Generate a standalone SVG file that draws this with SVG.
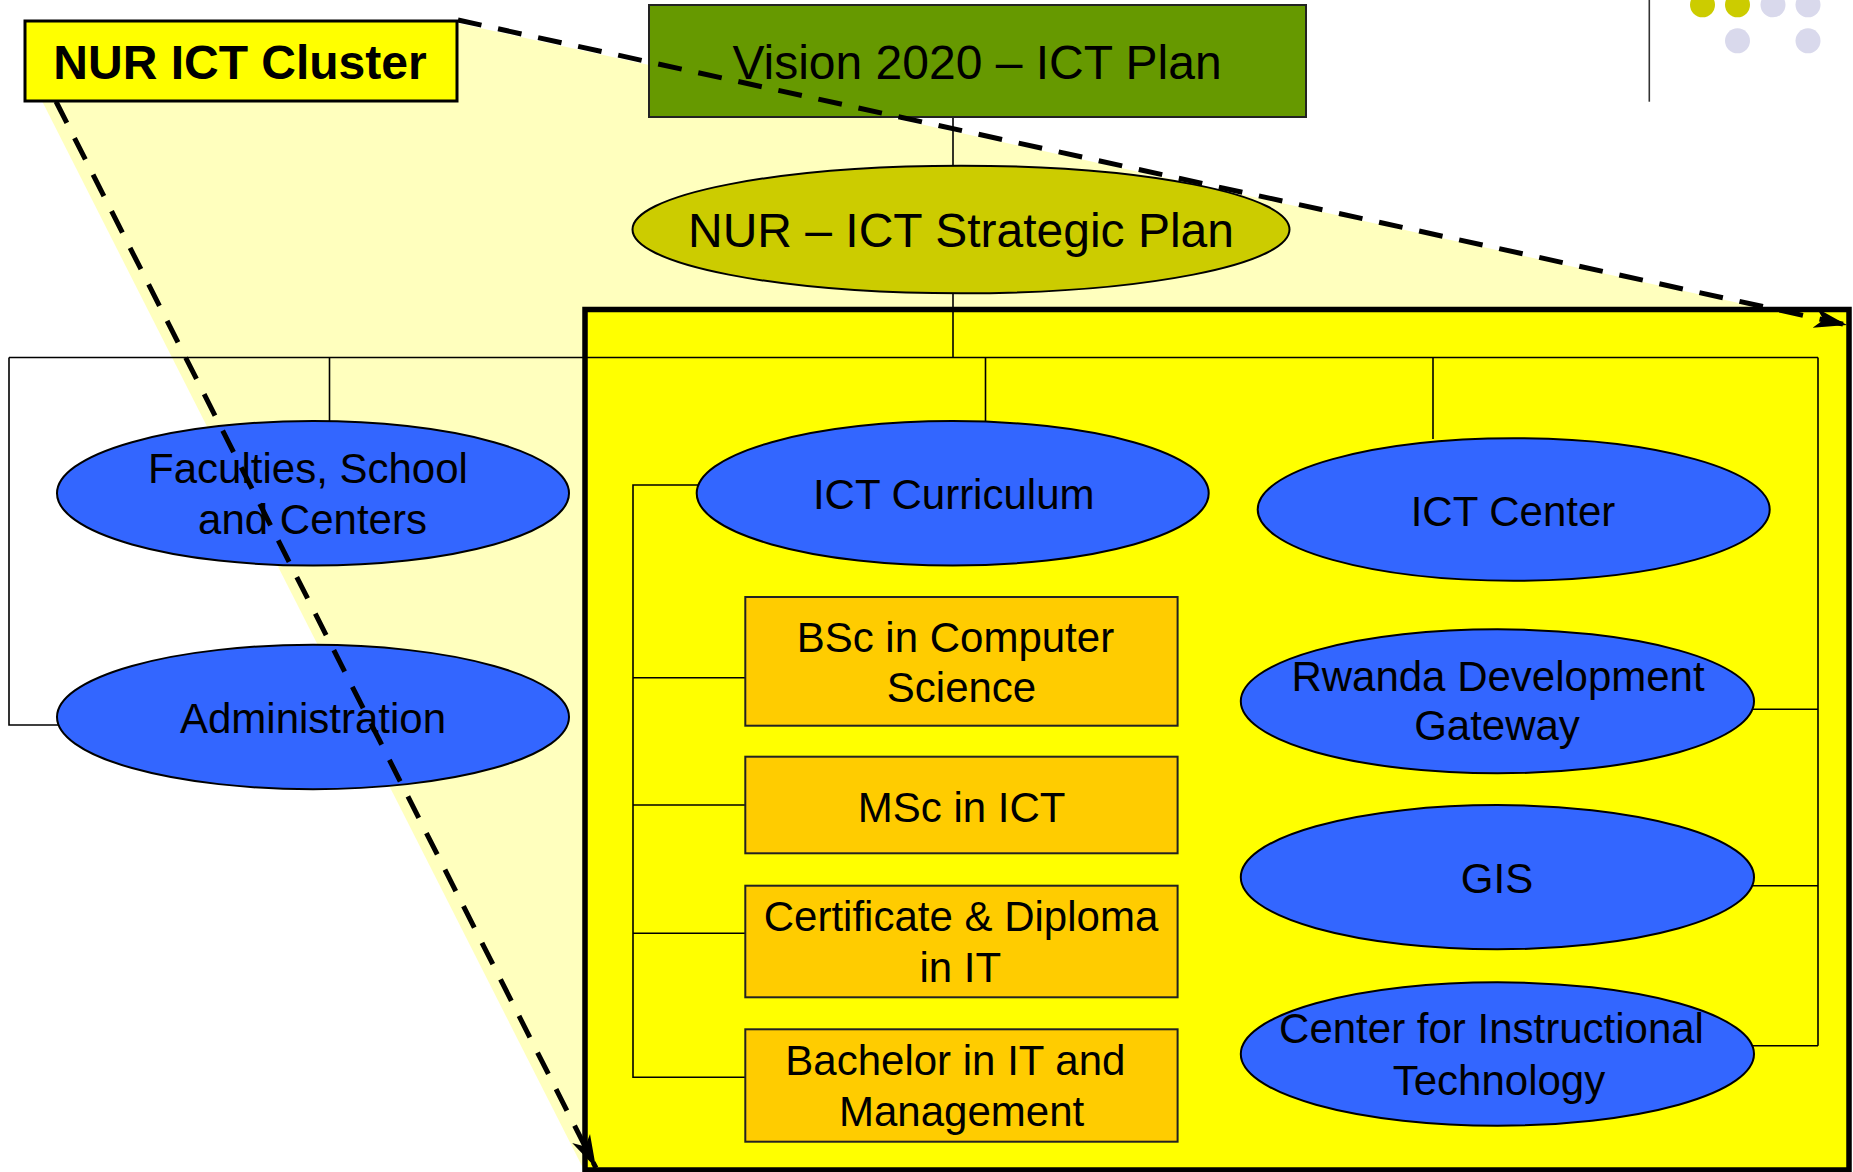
<svg xmlns="http://www.w3.org/2000/svg" width="1853" height="1172" viewBox="0 0 1853 1172">
<style>
  text { font-family: "Liberation Sans", Arial, sans-serif; fill: #000; text-anchor: middle; }
  .t48 { font-size: 48px; }
  .t42 { font-size: 42px; }
  .bold { font-weight: bold; }
  .blue { fill: #3366FF; stroke: #000; stroke-width: 2; }
  .orange { fill: #FFCC00; stroke: #222; stroke-width: 2; }
  .conn { fill: none; stroke: #000; stroke-width: 1.6; }
  .dash { fill: none; stroke: #000; stroke-width: 5; stroke-dasharray: 24 17; }
</style>
<defs>
  <marker id="arrow" markerUnits="userSpaceOnUse" markerWidth="34" markerHeight="24" viewBox="0 0 34 24" refX="33" refY="12" orient="auto">
    <path d="M0,2 L33,12 L0,22 L9,12 Z" fill="#000"/>
  </marker>
</defs>
<rect x="0" y="0" width="1853" height="1172" fill="#FFFFFF"/>

<!-- light yellow projection fan -->
<polygon points="42,101 457,23 1849,327 1849,1172 585,1172" fill="#FFFFBE"/>

<!-- big yellow cluster box -->
<g id="cluster-area">
  <rect x="585" y="309.5" width="1264" height="860.5" fill="#FFFF00" stroke="#000" stroke-width="5.5"/>
</g>

<!-- connectors -->
<g id="connectors">
  <line class="conn" x1="953" y1="117" x2="953" y2="167"/>
  <line class="conn" x1="953" y1="292" x2="953" y2="357.5"/>
  <line class="conn" x1="9" y1="357.5" x2="1818" y2="357.5"/>
  <polyline class="conn" points="9,357.5 9,725 58,725"/>
  <line class="conn" x1="329.5" y1="357.5" x2="329.5" y2="422"/>
  <line class="conn" x1="985.5" y1="357.5" x2="985.5" y2="422"/>
  <line class="conn" x1="1433" y1="357.5" x2="1433" y2="439"/>
  <line class="conn" x1="1818" y1="357.5" x2="1818" y2="1045.7"/>
  <line class="conn" x1="1752" y1="709.3" x2="1818" y2="709.3"/>
  <line class="conn" x1="1752" y1="885.7" x2="1818" y2="885.7"/>
  <line class="conn" x1="1752" y1="1045.7" x2="1818" y2="1045.7"/>
  <polyline class="conn" points="699,485 633,485 633,1077.3 745,1077.3"/>
  <line class="conn" x1="633" y1="677.7" x2="745" y2="677.7"/>
  <line class="conn" x1="633" y1="805" x2="745" y2="805"/>
  <line class="conn" x1="633" y1="933.3" x2="745" y2="933.3"/>
</g>

<g id="vision">
  <rect x="649" y="5" width="657" height="112" fill="#669900" stroke="#222" stroke-width="2"/>
  <text class="t48" x="977" y="79">Vision 2020 – ICT Plan</text>
</g>
<g id="strategic-plan">
  <ellipse cx="961" cy="229.5" rx="328.5" ry="63.8" fill="#CCCC00" stroke="#000" stroke-width="2"/>
  <text class="t48" x="961" y="246.7">NUR – ICT Strategic Plan</text>
</g>
<g id="nur-ict-cluster">
  <rect x="25" y="21" width="432" height="80" fill="#FFFF00" stroke="#000" stroke-width="3"/>
  <text class="t48 bold" x="240" y="79">NUR ICT Cluster</text>
</g>

<g id="faculties">
  <ellipse class="blue" cx="313" cy="493.3" rx="256" ry="72.3"/>
  <text class="t42" x="308" y="483.3">Faculties, School</text>
  <text class="t42" x="312.5" y="534.3">and Centers</text>
</g>
<g id="administration">
  <ellipse class="blue" cx="313" cy="717" rx="256" ry="72.2"/>
  <text class="t42" x="313" y="733.3">Administration</text>
</g>
<g id="ict-curriculum">
  <ellipse class="blue" cx="952.7" cy="493.3" rx="256" ry="72.3"/>
  <text class="t42" x="953.7" y="509.3">ICT Curriculum</text>
</g>
<g id="bsc-cs">
  <rect class="orange" x="745.3" y="597" width="432.3" height="128.7"/>
  <text class="t42" x="955.4" y="651.7">BSc in Computer</text>
  <text class="t42" x="961.5" y="701.7">Science</text>
</g>
<g id="msc-ict">
  <rect class="orange" x="745.3" y="756.7" width="432.3" height="96.6"/>
  <text class="t42" x="961.7" y="821.7">MSc in ICT</text>
</g>
<g id="cert-diploma">
  <rect class="orange" x="745.3" y="885.7" width="432.3" height="111.6"/>
  <text class="t42" x="961" y="931">Certificate &amp; Diploma</text>
  <text class="t42" x="960.3" y="982.3">in IT</text>
</g>
<g id="bachelor-it">
  <rect class="orange" x="745.3" y="1029.3" width="432.3" height="112.4"/>
  <text class="t42" x="955.4" y="1075">Bachelor in IT and</text>
  <text class="t42" x="961.6" y="1126">Management</text>
</g>
<g id="ict-center">
  <ellipse class="blue" cx="1513.7" cy="509.5" rx="256" ry="71.2"/>
  <text class="t42" x="1513" y="525.7">ICT Center</text>
</g>
<g id="rdg">
  <ellipse class="blue" cx="1497.4" cy="701.3" rx="256.6" ry="72"/>
  <text class="t42" x="1498" y="691">Rwanda Development</text>
  <text class="t42" x="1497" y="740">Gateway</text>
</g>
<g id="gis">
  <ellipse class="blue" cx="1497.4" cy="877.2" rx="256.6" ry="72.1"/>
  <text class="t42" x="1497" y="893.3">GIS</text>
</g>
<g id="cit">
  <ellipse class="blue" cx="1497.4" cy="1054" rx="256.6" ry="71.7"/>
  <text class="t42" x="1491.5" y="1043.3">Center for Instructional</text>
  <text class="t42" x="1499" y="1095">Technology</text>
</g>

<!-- dashed projection arrows -->
<g id="projection-arrows">
  <line class="dash" x1="458" y1="20" x2="1847" y2="325" marker-end="url(#arrow)"/>
  <line class="dash" x1="56" y1="101.5" x2="596" y2="1168" marker-end="url(#arrow)"/>
</g>

<!-- slide decoration -->
<g id="decoration">
  <line x1="1649.3" y1="0" x2="1649.3" y2="101.7" stroke="#333" stroke-width="1.6"/>
  <circle cx="1702.5" cy="4.8" r="12.5" fill="#CCCC00"/>
  <circle cx="1737.5" cy="4.8" r="12.5" fill="#CCCC00"/>
  <circle cx="1773" cy="4.8" r="12.5" fill="#D9D9EC"/>
  <circle cx="1808" cy="4.8" r="12.5" fill="#D9D9EC"/>
  <circle cx="1737.5" cy="40.8" r="12.5" fill="#D9D9EC"/>
  <circle cx="1808" cy="40.8" r="12.5" fill="#D9D9EC"/>
</g>
</svg>
